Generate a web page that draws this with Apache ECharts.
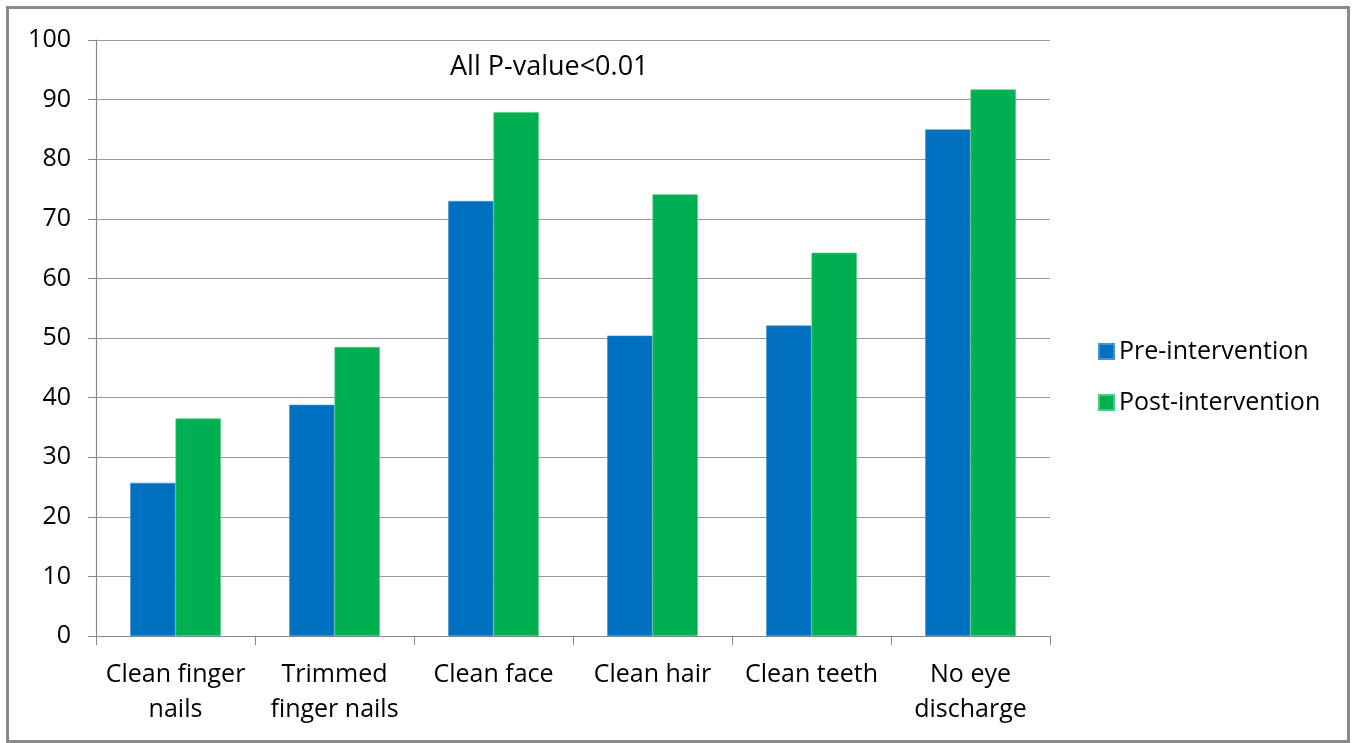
<!DOCTYPE html>
<html>
<head>
<meta charset="utf-8">
<script src="https://cdn.jsdelivr.net/npm/echarts@6/dist/echarts.min.js"></script>
<style>
  html, body { margin: 0; padding: 0; background: #fff; }
  #chart { width: 1357px; height: 743px; }
</style>
</head>
<body>
<div id="chart"></div>
<script>
// Personal hygiene indicators (%) before and after the intervention
const categories = [
  'Clean finger\nnails',
  'Trimmed\nfinger nails',
  'Clean face',
  'Clean hair',
  'Clean teeth',
  'No eye\ndischarge'
];
const preIntervention = [25.7, 38.8, 73.0, 50.4, 52.1, 85.0];
const postIntervention = [36.5, 48.5, 87.9, 74.1, 64.3, 91.7];
const seriesNames = ['Pre-intervention', 'Post-intervention'];
const note = 'All P-value<0.01';

const FONT = '"Open Sans", "Noto Sans", sans-serif';
const chart = echarts.init(document.getElementById('chart'), null, { renderer: 'canvas' });

chart.setOption({
  animation: false,
  backgroundColor: '#fff',
  textStyle: { fontFamily: FONT },
  graphic: [
    {
      type: 'rect',
      shape: { x: 7.5, y: 7.5, width: 1341, height: 734 },
      style: { fill: 'none', stroke: '#8a8a8a', lineWidth: 3 },
      silent: true
    },
    {
      type: 'text',
      left: 450, top: 54,
      style: { text: note, font: '27px ' + FONT, fill: '#000' },
      silent: true
    }
  ],
  legend: {
    orient: 'vertical',
    left: 1093, top: 334,
    itemWidth: 15, itemHeight: 15, itemGap: 26,
    icon: 'rect',
    textStyle: { fontSize: 25, color: '#000', fontFamily: FONT },
    data: seriesNames
  },
  grid: { left: 96, right: 307, top: 40, bottom: 107, containLabel: false },
  xAxis: {
    type: 'category',
    data: categories,
    axisLine: { lineStyle: { color: '#888', width: 1.2 } },
    axisTick: { show: true, length: 9, lineStyle: { color: '#888' } },
    axisLabel: { color: '#000', fontSize: 25, lineHeight: 35, margin: 21, fontFamily: FONT, interval: 0 }
  },
  yAxis: {
    type: 'value',
    min: 0, max: 100, interval: 10,
    axisLine: { show: true, lineStyle: { color: '#888', width: 1.2 } },
    axisTick: { show: true, length: 8, lineStyle: { color: '#888' } },
    axisLabel: { color: '#000', fontSize: 25, margin: 25, fontFamily: FONT },
    splitLine: { lineStyle: { color: '#999', width: 1.2 } }
  },
  series: [
    {
      name: seriesNames[0], type: 'bar',
      data: preIntervention,
      barGap: '0%', barCategoryGap: '43%',
      itemStyle: { color: '#0070C0', borderColor: '#4a8fd0', borderWidth: 0.6 }
    },
    {
      name: seriesNames[1], type: 'bar',
      data: postIntervention,
      itemStyle: { color: '#00B050', borderColor: '#4cc883', borderWidth: 0.6 }
    }
  ]
});
</script>
</body>
</html>
